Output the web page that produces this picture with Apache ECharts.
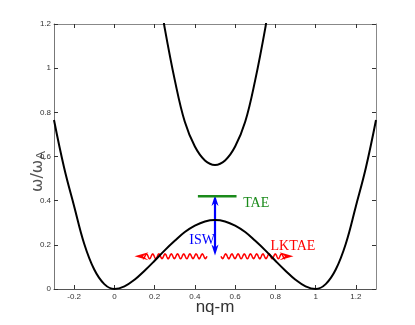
<!DOCTYPE html>
<html>
<head>
	<meta charset="utf-8">
	<title>TAE continuum</title>
	<style type="text/css">
		body{
			margin: 0px;
			background: #fff;
		}
		.chart{
			width: 415px;
			height: 325px;
		}
	</style>
	<script type="text/javascript" src="https://cdn.jsdelivr.net/npm/echarts@6/dist/echarts.min.js"></script>
</head>
<body>
	<div id="chart" class="chart"></div>
	<script type="text/javascript">
		// tick positions on x (axis runs -0.3 .. 1.3)
		var xTicks = [-0.2, 0, 0.2, 0.4, 0.6, 0.8, 1, 1.2];

		// lower continuum branch
		var lowerX = [-0.3, -0.25, -0.2, -0.15, -0.1, -0.05, 0, 0.05, 0.1, 0.15, 0.2, 0.25, 0.3, 0.35, 0.4, 0.45, 0.5,
			0.55, 0.6, 0.65, 0.7, 0.75, 0.8, 0.85, 0.9, 0.95, 1, 1.05, 1.1, 1.15, 1.2, 1.25, 1.3];
		var lowerY = [0.765, 0.55, 0.375, 0.205, 0.088, 0.022, 0, 0.012, 0.042, 0.083, 0.128, 0.175, 0.218, 0.258, 0.287, 0.306, 0.3125,
			0.306, 0.287, 0.258, 0.218, 0.175, 0.128, 0.083, 0.042, 0.012, 0, 0.022, 0.088, 0.205, 0.375, 0.55, 0.765];

		// upper continuum branch
		var upperX = [0.24, 0.25, 0.3, 0.35, 0.4, 0.45, 0.5, 0.55, 0.6, 0.65, 0.7, 0.75, 0.76];
		var upperY = [1.25, 1.182, 0.947, 0.757, 0.645, 0.582, 0.562, 0.582, 0.645, 0.757, 0.947, 1.182, 1.25];

		// annotations (data coordinates)
		var taeLine = [[0.415, 0.42], [0.607, 0.42]];
		var iswArrow = [[0.5, 0.426, 0.5, 0.152]];
		var lktaeArrows = [[0.46, 0.148, 0.1, 0.148], [0.53, 0.148, 0.89, 0.148]];
		var labelText = ['TAE', 'ISW', 'LKTAE'];
		var labelPos = [[0.64, 0.39], [0.372, 0.222], [0.776, 0.195]];

		function pairs(xs, ys){
			var out = [];
			for(var i = 0; i < xs.length; i++){
				out.push([xs[i], ys[i]]);
			}
			return out;
		}

		function wavyArrow(params, api){
			var p0 = api.coord([api.value(0), api.value(1)]);
			var p1 = api.coord([api.value(2), api.value(3)]);
			var dir = p1[0] > p0[0] ? 1 : -1;
			var headLen = 14, headW = 4;
			var len = Math.abs(p1[0] - dir * headLen * 0.6 - p0[0]);
			var pts = [];
			for(var s = 0; s <= len; s += 0.5){
				pts.push([p0[0] + dir * s, p0[1] + 2.4 * Math.sin(s / 6.2 * 2 * Math.PI)]);
			}
			return {
				type: 'group',
				children: [{
					type: 'polyline',
					shape: {points: pts},
					style: {stroke: '#ff0000', lineWidth: 1.5, fill: null}
				}, {
					type: 'polygon',
					shape: {points: [
						[p1[0], p1[1]],
						[p1[0] - dir * headLen, p1[1] - headW],
						[p1[0] - dir * headLen * 0.6, p1[1]],
						[p1[0] - dir * headLen, p1[1] + headW]
					]},
					style: {fill: '#ff0000'}
				}]
			};
		}

		function doubleArrow(params, api){
			var a = api.coord([api.value(0), api.value(1)]);
			var b = api.coord([api.value(2), api.value(3)]);
			var hl = 11, hw = 3.5;
			return {
				type: 'group',
				children: [{
					type: 'line',
					shape: {x1: a[0], y1: a[1] + hl * 0.6, x2: b[0], y2: b[1] - hl * 0.6},
					style: {stroke: '#0000ff', lineWidth: 2.2}
				}, {
					type: 'polygon',
					shape: {points: [[a[0], a[1]], [a[0] - hw, a[1] + hl], [a[0], a[1] + hl * 0.7], [a[0] + hw, a[1] + hl]]},
					style: {fill: '#0000ff'}
				}, {
					type: 'polygon',
					shape: {points: [[b[0], b[1]], [b[0] - hw, b[1] - hl], [b[0], b[1] - hl * 0.7], [b[0] + hw, b[1] - hl]]},
					style: {fill: '#0000ff'}
				}]
			};
		}

		var labelColors = ['#1a8a1a', '#0000ff', '#ff0000'];
		function textLabel(params, api){
			var p = api.coord([api.value(0), api.value(1)]);
			return {
				type: 'text',
				x: p[0],
				y: p[1],
				style: {
					text: labelText[params.dataIndex],
					fill: labelColors[params.dataIndex],
					fontSize: 14,
					fontFamily: '"Liberation Serif", "DejaVu Serif", serif',
					verticalAlign: 'middle',
					align: 'left'
				}
			};
		}

		var tickStyle = {show: true, inside: true, length: 4, lineStyle: {color: '#333'}};

		window.onload = function(){
			var chart = echarts.init(document.getElementById('chart'));
			chart.setOption({
				animation: false,
				backgroundColor: '#fff',
				grid: {left: 54, right: 39, top: 24, bottom: 36, containLabel: false, outerBoundsMode: 'none'},
				xAxis: [{
					type: 'value',
					min: -0.3,
					max: 1.3,
					name: 'nq-m',
					nameLocation: 'middle',
					nameGap: 10,
					nameMoveOverlap: false,
					nameTextStyle: {fontSize: 17, color: '#333', fontFamily: '"Liberation Sans", Arial, sans-serif'},
					axisLine: {show: true, onZero: false, lineStyle: {color: '#555', width: 1}},
					axisTick: {show: true, inside: true, length: 4, customValues: xTicks, lineStyle: {color: '#333'}},
					axisLabel: {
						customValues: xTicks,
						fontSize: 8,
						margin: 4,
						color: '#333',
						fontFamily: '"Liberation Sans", Arial, sans-serif'
					},
					splitLine: {show: false}
				}, {
					type: 'value',
					position: 'top',
					min: -0.3,
					max: 1.3,
					axisLine: {show: true, onZero: false, lineStyle: {color: '#888', width: 1}},
					axisTick: {show: true, inside: true, length: 4, customValues: xTicks, lineStyle: {color: '#333'}},
					axisLabel: {show: false},
					splitLine: {show: false}
				}],
				yAxis: [{
					type: 'value',
					min: 0,
					max: 1.2,
					interval: 0.2,
					name: '{a|ω/ω}{s|A}',
					nameLocation: 'middle',
					nameGap: 6,
					nameRotate: 90,
					nameMoveOverlap: false,
					nameTextStyle: {
						padding: [0, 30, 0, 0],
						rich: {
							a: {fontSize: 16, color: '#555', fontFamily: '"DejaVu Sans", sans-serif', lineHeight: 18, verticalAlign: 'top'},
							s: {fontSize: 13, color: '#555', fontFamily: '"Liberation Sans", sans-serif', lineHeight: 18, verticalAlign: 'bottom'}
						}
					},
					axisLine: {show: true, onZero: false, lineStyle: {color: '#777', width: 1}},
					axisTick: tickStyle,
					axisLabel: {
						fontSize: 8,
						margin: 3,
						color: '#333',
						fontFamily: '"Liberation Sans", Arial, sans-serif'
					},
					splitLine: {show: false}
				}, {
					type: 'value',
					position: 'right',
					min: 0,
					max: 1.2,
					interval: 0.2,
					axisLine: {show: true, onZero: false, lineStyle: {color: '#888', width: 1}},
					axisTick: tickStyle,
					axisLabel: {show: false},
					splitLine: {show: false}
				}],
				series: [{
					name: 'lower',
					type: 'line',
					data: pairs(lowerX, lowerY),
					smooth: 0.4,
					showSymbol: false,
					clip: true,
					lineStyle: {color: '#000', width: 2}
				}, {
					name: 'upper',
					type: 'line',
					data: pairs(upperX, upperY),
					smooth: 0.4,
					showSymbol: false,
					clip: true,
					lineStyle: {color: '#000', width: 2}
				}, {
					name: 'TAE',
					type: 'line',
					data: taeLine,
					showSymbol: false,
					lineStyle: {color: '#1a8a1a', width: 2.5}
				}, {
					name: 'ISW',
					type: 'custom',
					renderItem: doubleArrow,
					data: iswArrow,
					encode: {x: [0, 2], y: [1, 3]}
				}, {
					name: 'LKTAE',
					type: 'custom',
					renderItem: wavyArrow,
					data: lktaeArrows,
					encode: {x: [0, 2], y: [1, 3]}
				}, {
					name: 'labels',
					type: 'custom',
					renderItem: textLabel,
					data: labelPos,
					encode: {x: 0, y: 1}
				}]
			});
		};
	</script>
</body>
</html>
